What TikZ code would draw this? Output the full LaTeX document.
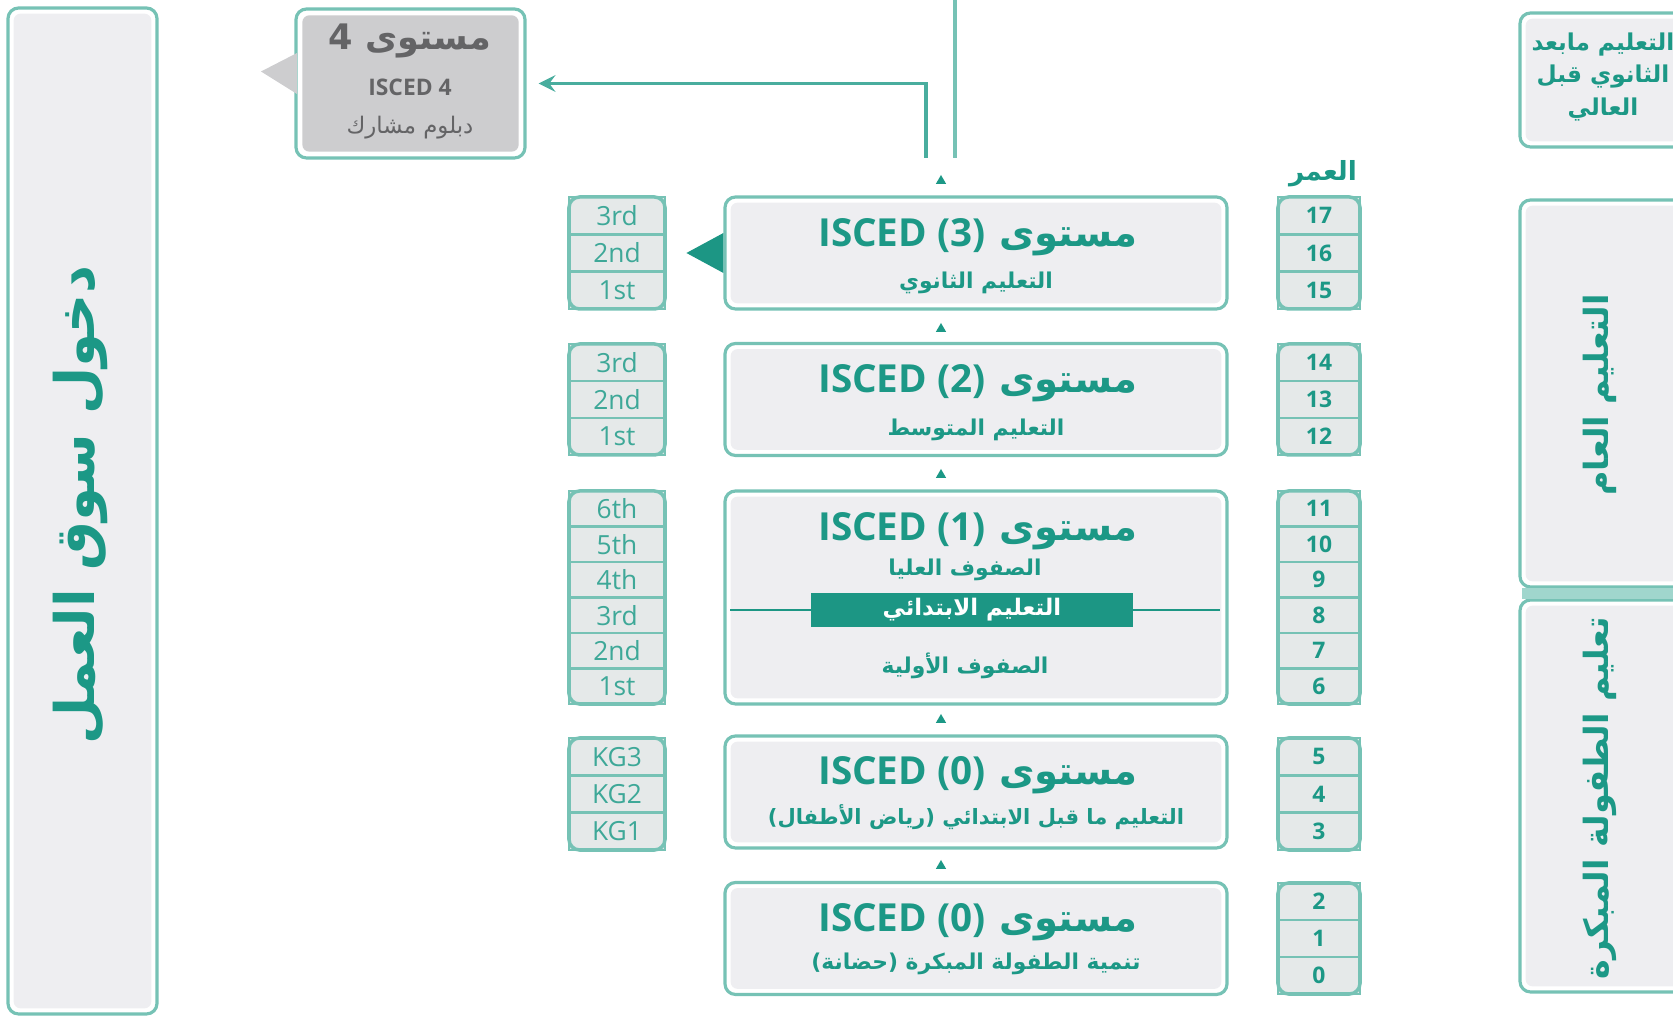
\documentclass[tikz,border=0pt]{standalone}
\usepackage{fontspec}
\usepackage[svgnames]{xcolor}
\usepackage{tikz}
\usetikzlibrary{shapes.geometric}
\TeXXeTstate=1
\newfontfamily\arabicfont[Script=Arabic]{DejaVu Sans}
\newfontfamily\latinfont{Open Sans}
\definecolor{tealtxt}{RGB}{28,152,134}
\definecolor{tealline}{RGB}{118,194,181}
\definecolor{boxgray}{RGB}{238,238,241}
\definecolor{cellgray}{RGB}{229,233,233}
\definecolor{lfourgray}{RGB}{205,205,207}
\definecolor{lfourtext}{RGB}{100,100,102}
\definecolor{bandteal}{RGB}{28,150,132}
\definecolor{barteal}{RGB}{160,214,205}
\pgfdeclarelayer{edgelayer}
\pgfdeclarelayer{nodelayer}
\pgfsetlayers{edgelayer,nodelayer,main}
\tikzstyle{none}=[inner sep=0pt]
\tikzstyle{levelbox}=[rectangle,draw=tealline,line width=0.9pt,rounded corners=3pt,fill=white,minimum width=5.02cm,minimum height=1.12cm,path picture={\fill [boxgray,rounded corners=2pt] ([shift={(1.6pt,-1.6pt)}]path picture bounding box.north west) rectangle ([shift={(-1.6pt,1.6pt)}]path picture bounding box.south east);}]
\tikzstyle{greybox}=[levelbox,path picture={\fill [lfourgray,rounded corners=2pt] ([shift={(1.8pt,-1.8pt)}]path picture bounding box.north west) rectangle ([shift={(-1.8pt,1.8pt)}]path picture bounding box.south east);}]
\tikzstyle{title}=[inner sep=0pt,text=tealtxt,font=\fontsize{11}{13}\selectfont\arabicfont\bfseries]
\tikzstyle{subtitle}=[inner sep=0pt,text=tealtxt,font=\fontsize{6.2}{8}\selectfont\arabicfont\bfseries]
\tikzstyle{sidelabel}=[inner sep=0pt,text=tealtxt,rotate=90,font=\fontsize{9.5}{11}\selectfont\arabicfont\bfseries]
\tikzstyle{cell}=[rectangle,draw=tealline,line width=0.7pt,fill=cellgray,minimum width=0.96cm,minimum height=0.373cm,inner sep=0pt,text=tealtxt!85,font=\fontsize{7.5}{9}\selectfont\latinfont]
\tikzstyle{agecell}=[cell,minimum width=0.82cm,text=tealtxt,font=\fontsize{6.5}{8}\selectfont\latinfont\bfseries]
\tikzstyle{frame}=[rectangle,draw=tealline,line width=1pt,rounded corners=3pt,inner sep=0pt]
\tikzstyle{steptip}=[regular polygon,regular polygon sides=3,fill=tealtxt,inner sep=0pt,minimum size=0.12cm]
\tikzstyle{band}=[rectangle,fill=bandteal,minimum width=3.22cm,minimum height=0.34cm,inner sep=0pt,text=white,font=\fontsize{6.5}{8}\selectfont\arabicfont\bfseries]
\tikzstyle{flowline}=[-,draw=tealline,line width=1.1pt]
\tikzstyle{flowarrow}=[->,>=stealth,draw=tealtxt!80,line width=1.1pt,shorten >=0.12cm]
\newcommand{\iscedtitle}[1]{\beginR مستوى \beginL{\latinfont\bfseries ISCED (#1)}\endL\endR}

\begin{document}
\begin{tikzpicture}
	\useasboundingbox (0,0) rectangle (16.73,-10.17);
	\begin{pgfonlayer}{nodelayer}
		% side boxes
		\node [style=levelbox, minimum width=1.49cm, minimum height=10.06cm] (market) at (0.825, -5.11) {};
		\node [style=sidelabel, font=\fontsize{15.5}{18}\selectfont\arabicfont\bfseries] (markettxt) at (0.80, -5.05) {\beginR دخول سوق العمل\endR};
		\node [style=levelbox, minimum width=1.70cm, minimum height=1.34cm] (postsec) at (16.05, -0.80) {};
		\node [style=none, text=tealtxt, align=center, font=\fontsize{6.6}{9.2}\selectfont\arabicfont\bfseries] (postsectxt) at (16.03, -0.77) {\beginR التعليم مابعد\endR\\\beginR الثانوي قبل\endR\\\beginR العالي\endR};
		\node [style=levelbox, minimum width=1.70cm, minimum height=3.87cm] (general) at (16.05, -3.935) {};
		\node [style=sidelabel] (generaltxt) at (16.00, -3.95) {\beginR التعليم العام\endR};
		\node [style=levelbox, minimum width=1.70cm, minimum height=3.92cm] (early) at (16.05, -7.96) {};
		\node [style=sidelabel] (earlytxt) at (16.00, -7.98) {\beginR تعليم الطفولة المبكرة\endR};

		% level 4
		\node [style=greybox, minimum width=2.29cm, minimum height=1.49cm] (isced4) at (4.105, -0.835) {};
		\node [style=none, text=lfourtext, font=\fontsize{10}{12}\selectfont\arabicfont\bfseries] at (4.10, -0.41) {\beginR مستوى 4\endR};
		\node [style=none, text=lfourtext, font=\fontsize{6.5}{8}\selectfont\latinfont\bfseries] at (4.10, -0.87) {ISCED 4};
		\node [style=none, text=lfourtext, font=\fontsize{6.5}{8}\selectfont\arabicfont] at (4.10, -1.28) {\beginR دبلوم مشارك\endR};

		% levels
		\node [style=levelbox] (isced3) at (9.76, -2.53) {};
		\node [style=title] at (9.78, -2.37) {\iscedtitle{3}};
		\node [style=subtitle] at (9.76, -2.83) {\beginR التعليم الثانوي\endR};
		\node [style=levelbox] (isced2) at (9.76, -3.995) {};
		\node [style=title] at (9.78, -3.83) {\iscedtitle{2}};
		\node [style=subtitle] at (9.76, -4.30) {\beginR التعليم المتوسط\endR};
		\node [style=levelbox, minimum height=2.13cm] (isced1) at (9.76, -5.975) {};
		\node [style=title] at (9.78, -5.31) {\iscedtitle{1}};
		\node [style=subtitle] at (9.65, -5.70) {\beginR الصفوف العليا\endR};
		\node [style=subtitle] at (9.65, -6.66) {\beginR الصفوف الأولية\endR};
		\node [style=levelbox] (isced0k) at (9.76, -7.92) {};
		\node [style=title] at (9.78, -7.75) {\iscedtitle{0}};
		\node [style=subtitle, font=\fontsize{6}{8}\selectfont\arabicfont\bfseries] at (9.76, -8.17) {\beginR التعليم ما قبل الابتدائي (رياض الأطفال)\endR};
		\node [style=levelbox] (isced0n) at (9.76, -9.385) {};
		\node [style=title] at (9.78, -9.22) {\iscedtitle{0}};
		\node [style=subtitle] at (9.76, -9.64) {\beginR تنمية الطفولة المبكرة (حضانة)\endR};

		% grades
		\node [style=cell] (sec3) at (6.17, -2.157) {3rd};
		\node [style=cell] (sec2) at (6.17, -2.530) {2nd};
		\node [style=cell] (sec1) at (6.17, -2.903) {1st};
		\node [style=cell] (mid3) at (6.17, -3.625) {3rd};
		\node [style=cell] (mid2) at (6.17, -3.995) {2nd};
		\node [style=cell] (mid1) at (6.17, -4.365) {1st};
		\node [style=cell, minimum height=0.355cm] (pri6) at (6.17, -5.0875) {6th};
		\node [style=cell, minimum height=0.355cm] (pri5) at (6.17, -5.4425) {5th};
		\node [style=cell, minimum height=0.355cm] (pri4) at (6.17, -5.7975) {4th};
		\node [style=cell, minimum height=0.355cm] (pri3) at (6.17, -6.1525) {3rd};
		\node [style=cell, minimum height=0.355cm] (pri2) at (6.17, -6.5075) {2nd};
		\node [style=cell, minimum height=0.355cm] (pri1) at (6.17, -6.8625) {1st};
		\node [style=cell] (kg3) at (6.17, -7.567) {KG3};
		\node [style=cell] (kg2) at (6.17, -7.940) {KG2};
		\node [style=cell] (kg1) at (6.17, -8.313) {KG1};

		% ages
		\node [style=none, text=tealtxt, font=\fontsize{7.5}{9}\selectfont\arabicfont\bfseries] (agehead) at (13.23, -1.74) {\beginR العمر\endR};
		\node [style=agecell] (age17) at (13.19, -2.157) {17};
		\node [style=agecell] (age16) at (13.19, -2.530) {16};
		\node [style=agecell] (age15) at (13.19, -2.903) {15};
		\node [style=agecell] (age14) at (13.19, -3.625) {14};
		\node [style=agecell] (age13) at (13.19, -3.995) {13};
		\node [style=agecell] (age12) at (13.19, -4.365) {12};
		\node [style=agecell, minimum height=0.355cm] (age11) at (13.19, -5.0875) {11};
		\node [style=agecell, minimum height=0.355cm] (age10) at (13.19, -5.4425) {10};
		\node [style=agecell, minimum height=0.355cm] (age9) at (13.19, -5.7975) {9};
		\node [style=agecell, minimum height=0.355cm] (age8) at (13.19, -6.1525) {8};
		\node [style=agecell, minimum height=0.355cm] (age7) at (13.19, -6.5075) {7};
		\node [style=agecell, minimum height=0.355cm] (age6) at (13.19, -6.8625) {6};
		\node [style=agecell] (age5) at (13.19, -7.567) {5};
		\node [style=agecell] (age4) at (13.19, -7.940) {4};
		\node [style=agecell] (age3) at (13.19, -8.313) {3};
		\node [style=agecell] (age2) at (13.19, -9.015) {2};
		\node [style=agecell] (age1) at (13.19, -9.385) {1};
		\node [style=agecell] (age0) at (13.19, -9.755) {0};

		\node [style=none] (topin) at (9.55, 0.02) {};
		\node [style=none] (topend) at (9.55, -1.58) {};
		\node [style=none] (l3out) at (9.26, -1.58) {};
	\end{pgfonlayer}
	\begin{pgfonlayer}{edgelayer}
		\draw [style=flowline] (topin.center) to (topend.center);
		\draw [style=flowarrow] (l3out.center) |- (isced4.east);
	\end{pgfonlayer}
	% frames round the grade and age columns
	\node [style=frame, minimum width=0.96cm, minimum height=1.12cm] (secgrades) at (6.17, -2.53) {};
	\node [style=frame, minimum width=0.96cm, minimum height=1.11cm] (midgrades) at (6.17, -3.995) {};
	\node [style=frame, minimum width=0.96cm, minimum height=2.13cm] (prigrades) at (6.17, -5.975) {};
	\node [style=frame, minimum width=0.96cm, minimum height=1.12cm] (kggrades) at (6.17, -7.94) {};
	\node [style=frame, minimum width=0.82cm, minimum height=1.12cm] (agesec) at (13.19, -2.53) {};
	\node [style=frame, minimum width=0.82cm, minimum height=1.11cm] (agemid) at (13.19, -3.995) {};
	\node [style=frame, minimum width=0.82cm, minimum height=2.13cm] (agepri) at (13.19, -5.975) {};
	\node [style=frame, minimum width=0.82cm, minimum height=1.12cm] (agekg) at (13.19, -7.94) {};
	\node [style=frame, minimum width=0.82cm, minimum height=1.11cm] (agenur) at (13.19, -9.385) {};
	% primary band
	\draw [draw=bandteal, line width=0.8pt] ([xshift=0.07cm]isced1.west |- 0,-6.10) to ([xshift=-0.09cm]isced1.east |- 0,-6.10);
	\node [style=band] (primary) at (9.72, -6.10) {\beginR التعليم الابتدائي\endR};
	% pointers and step marks
	\fill [lfourgray] (2.97, -0.53) -- (2.61, -0.715) -- (2.97, -0.94) -- cycle;
	\fill [bandteal] ([yshift=0.2cm]isced3.west) -- ++(-0.37, -0.2) -- ++(0.37, -0.2) -- cycle;
	\fill [barteal] (15.22, -5.88) rectangle (16.90, -5.99);
	\node [style=steptip] (up0) at (9.41, -1.81) {};
	\node [style=steptip] (up1) at (9.41, -3.29) {};
	\node [style=steptip] (up2) at (9.41, -4.75) {};
	\node [style=steptip] (up3) at (9.41, -7.20) {};
	\node [style=steptip] (up4) at (9.41, -8.66) {};
\end{tikzpicture}
\end{document}
